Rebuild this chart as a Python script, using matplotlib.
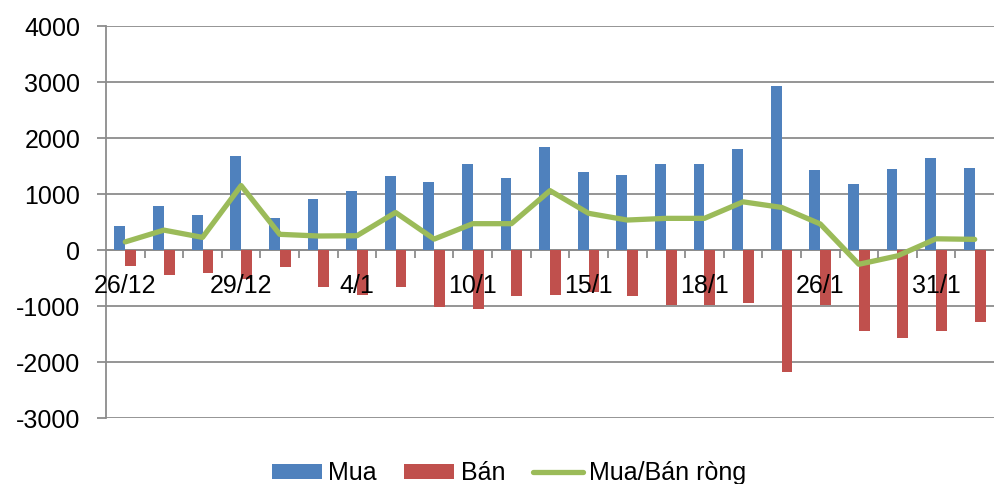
import matplotlib
matplotlib.use("agg")
import matplotlib.pyplot as plt
import numpy as np

# values
labels = ["26/12", "", "", "29/12", "", "", "4/1", "", "", "10/1", "", "",
          "15/1", "", "", "18/1", "", "", "26/1", "", "", "31/1", ""]
mua = [420, 790, 625, 1670, 575, 910, 1060, 1320, 1210, 1530, 1290, 1840,
       1400, 1345, 1540, 1540, 1795, 2920, 1430, 1180, 1455, 1640, 1460]
ban = [-280, -455, -415, -520, -300, -665, -805, -665, -1025, -1060, -820, -800,
       -750, -820, -975, -975, -945, -2175, -975, -1450, -1570, -1445, -1280]
rong = [145, 355, 225, 1150, 280, 250, 255, 670, 195, 470, 470, 1060,
        655, 535, 565, 565, 860, 760, 465, -255, -105, 200, 190]

plt.rcParams["font.family"] = ["Liberation Sans", "DejaVu Sans"]
plt.rcParams["axes.unicode_minus"] = False
grey = "#8c8c8c"

fig = plt.figure(figsize=(9.94, 4.84), dpi=100)
ax = fig.add_axes([106 / 994, 66 / 484, 888 / 994, 392 / 484])

x = np.arange(len(mua))
b1 = ax.bar(x - 0.14, mua, width=0.28, color="#4F81BD", label="Mua", zorder=2)
b2 = ax.bar(x + 0.14, ban, width=0.28, color="#C0504D", label="Bán", zorder=2)
l1, = ax.plot(x, rong, color="#9BBB59", lw=3.8, solid_capstyle="round",
              solid_joinstyle="round", label="Mua/Bán ròng", zorder=3)

ax.set_xlim(-0.5, len(mua) - 0.5)
ax.set_ylim(-3000, 4000)
ax.set_yticks(range(-3000, 4001, 1000))
ax.yaxis.grid(True, color=grey, lw=1.3)
ax.yaxis.set_zorder(0.5)

for s in ["top", "right"]:
    ax.spines[s].set_visible(False)
ax.spines["left"].set_color(grey)
ax.spines["left"].set_linewidth(1.3)
ax.spines["bottom"].set_position(("data", 0))
ax.spines["bottom"].set_color(grey)
ax.spines["bottom"].set_linewidth(1.3)
ax.spines["bottom"].set_zorder(1)

ax.tick_params(axis="y", direction="out", length=6.5, width=1.3, color=grey,
               labelsize=18, pad=12)
# boundary ticks on the zero line, labels at category centres
ax.set_xticks(np.arange(0.5, len(mua) - 0.5, 1))
ax.set_xticklabels([])
ax.tick_params(axis="x", which="major", direction="out", length=6, width=1.3,
               color=grey)
ax.set_xticks(x, minor=True)
ax.set_xticklabels(labels, minor=True)
ax.tick_params(axis="x", which="minor", length=0, labelsize=18, pad=17)
ax.xaxis.set_zorder(5)

fig.legend([b1, b2, l1], ["Mua", "Bán", "Mua/Bán ròng"], loc="center",
           bbox_to_anchor=(0.512, 0.022), ncol=3, frameon=False,
           fontsize=18, handlelength=2.0, handleheight=0.55, handletextpad=0.25,
           columnspacing=1.1)

fig.savefig("out.png", dpi=100, facecolor="white")
